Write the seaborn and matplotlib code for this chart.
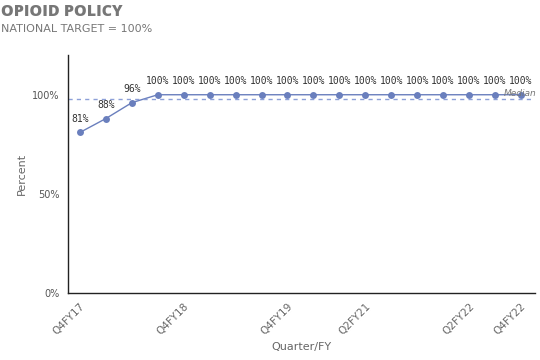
import pandas as pd
import matplotlib.pyplot as plt
import seaborn as sns

# Data
quarters = ['Q4FY17', 'Q1FY18', 'Q2FY18', 'Q3FY18', 'Q4FY18', 'Q1FY19', 'Q2FY19', 'Q3FY19',
            'Q4FY19', 'Q2FY20', 'Q4FY20', 'Q2FY21', 'Q3FY21', 'Q4FY21', 'Q1FY22', 'Q2FY22',
            'Q3FY22', 'Q4FY22']
percent = [81, 88, 96, 100, 100, 100, 100, 100, 100, 100, 100, 100, 100, 100, 100, 100, 100, 100]
shown_ticks = ['Q4FY17', 'Q4FY18', 'Q4FY19', 'Q2FY21', 'Q2FY22', 'Q4FY22']
median_value = 98

df = pd.DataFrame({'Quarter': quarters, 'Percent': percent})
df['pos'] = range(len(df))

sns.set_style('white')
fig = plt.figure(figsize=(5.4, 3.6), dpi=100)
ax = fig.add_axes([0.126, 0.186, 0.865, 0.661])

line_color = '#6a7fbd'
sns.lineplot(data=df, x='pos', y='Percent', ax=ax, color=line_color, linewidth=1,
             marker='o', markersize=5, markeredgewidth=0)

# Median reference line
ax.axhline(median_value, color='#8da0d8', linestyle='--', linewidth=1, dashes=(3, 3))
ax.text(17.6, median_value + 0.4, 'Median', ha='right', va='bottom', fontsize=6.5,
        style='italic', color='#777777')

# Data labels
for x, y in zip(df['pos'], df['Percent']):
    ax.text(x, y + 4.2, f'{y}%', ha='center', va='bottom', fontsize=7,
            family='DejaVu Sans Mono', color='#333333')

ax.set_xlim(-0.46, 17.55)
ax.set_ylim(0, 120)
ticks = [quarters.index(q) for q in shown_ticks]
ax.set_xticks(ticks)
ax.set_xticklabels(shown_ticks, rotation=45, ha='right', rotation_mode='anchor',
                   fontsize=7.5, color='#666666')
ax.set_yticks([0, 50, 100])
ax.set_yticklabels(['0%', '50%', '100%'], fontsize=7, color='#555555')
ax.tick_params(axis='both', length=4, width=1, color='#333333', pad=2)

for side in ['top', 'right']:
    ax.spines[side].set_visible(False)
for side in ['left', 'bottom']:
    ax.spines[side].set_color('#222222')
    ax.spines[side].set_linewidth(1)

ax.set_xlabel('Quarter/FY', fontsize=8, color='#666666')
ax.set_ylabel('Percent', fontsize=8, color='#666666')

fig.text(0.002, 0.955, 'OPIOID POLICY', fontsize=11.5, fontweight='heavy',
         family='Open Sans', color='#777777')
fig.text(0.002, 0.91, 'NATIONAL TARGET = 100%', fontsize=8, color='#777777')

plt.savefig('out.png', dpi=100)
